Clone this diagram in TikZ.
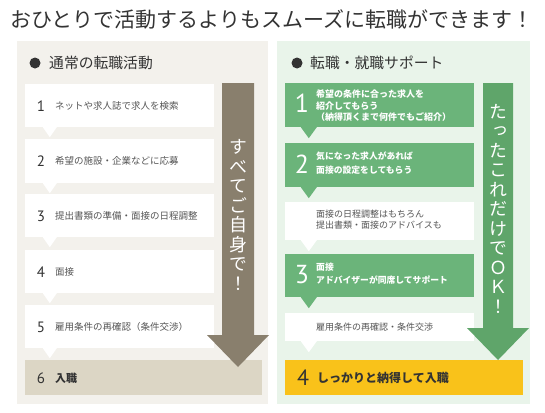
\documentclass[tikz,border=0pt]{standalone}
\usepackage{fontspec}
\setmainfont{Noto Sans CJK JP}
\newfontfamily\vjp{Noto Sans CJK JP}[RawFeature=+vert]
\newfontfamily\numf{PT Sans}
\definecolor{lpanel}{HTML}{F3F1EC}
\definecolor{rpanel}{HTML}{E9F4EA}
\definecolor{larrow}{HTML}{897F6D}
\definecolor{tanbox}{HTML}{DCD6C5}
\definecolor{gbox}{HTML}{6BB47A}
\definecolor{garrow}{HTML}{5FA56A}
\definecolor{ybox}{HTML}{F9C21A}
\definecolor{darktext}{HTML}{333333}
\definecolor{graytext}{HTML}{555555}
\begin{document}
\begin{tikzpicture}[x=1pt,y=-1pt,
  box/.style={draw=none, inner sep=0pt, minimum width=189pt},
  wbox/.style={box, fill=white},
  grbox/.style={box, fill=gbox},
  lnum/.style={font=\numf\fontsize{15}{15}\selectfont, text=darktext, inner sep=0pt},
  ltxt/.style={anchor=west, font=\fontsize{9.5}{11.5}\selectfont, text=graytext, inner sep=0pt, align=left},
  gnum/.style={font=\numf\fontsize{26}{26}\selectfont, text=white, inner sep=0pt},
  gtxt/.style={anchor=west, font=\bfseries\fontsize{9}{11.5}\selectfont, text=white, inner sep=0pt, align=left},
  gline/.style={gtxt, font=\bfseries\fontsize{8.8}{11}\selectfont},
  wtxt/.style={anchor=west, font=\fontsize{9}{11.3}\selectfont, text=graytext, inner sep=0pt, align=left},
  head/.style={anchor=west, font=\fontsize{14.8}{14.8}\selectfont, text=darktext, inner sep=0pt},
  bullet/.style={circle, fill=darktext, minimum size=11pt, inner sep=0pt},
  vtext/.style={font=\vjp\fontsize{18}{19.5}\selectfont, text=white, align=center, inner sep=0pt}
]
\useasboundingbox (0,0) rectangle (545,412);
\fill[white] (0,0) rectangle (545,412);
% panels
\fill[lpanel] (17,41) rectangle (268,404);
\fill[rpanel] (277,41) rectangle (530,404);
% title
\node[anchor=west, inner sep=0pt, text=darktext, font=\fontsize{21}{21}\selectfont] (title) at (10,19) {おひとりで活動するよりもスムーズに転職ができます！};
% headers
\node[bullet] (lb) at (35,63) {};
\node[head] (lh) at (49,63) {通常の転職活動};
\node[bullet] (rb) at (297,63) {};
\node[head] (rh) at (310,63) {転職・就職サポート};

% left boxes
\node[wbox, minimum height=43pt] (l1) at (119.5,105.5) {};
\node[wbox, minimum height=44pt] (l2) at (119.5,161) {};
\node[wbox, minimum height=43pt] (l3) at (119.5,215.5) {};
\node[wbox, minimum height=43pt] (l4) at (119.5,271.5) {};
\node[wbox, minimum height=43pt] (l5) at (119.5,326.5) {};
\node[box, fill=tanbox, minimum width=237pt, minimum height=35pt] (l6) at (143.5,377.5) {};
\foreach \b in {l1,l2,l3,l4,l5}{
  \fill[white] ([xshift=18pt]\b.south west) -- ([xshift=32pt]\b.south west) -- ([xshift=25pt,yshift=-10pt]\b.south west) -- cycle;
}
% left texts
\node[lnum] (l1n) at (41,106) {1};
\node[ltxt] (l1t) at (55,106) {ネットや求人誌で求人を検索};
\node[lnum] (l2n) at (41,161) {2};
\node[ltxt] (l2t) at (55,161) {希望の施設・企業などに応募};
\node[lnum] (l3n) at (41,216) {3};
\node[ltxt] (l3t) at (55,216) {提出書類の準備・面接の日程調整};
\node[lnum] (l4n) at (41,272) {4};
\node[ltxt] (l4t) at (55,272) {面接};
\node[lnum] (l5n) at (41,327) {5};
\node[ltxt] (l5t) at (55,327) {雇用条件の再確認（条件交渉）};
\node[lnum] (l6n) at (41,378) {6};
\node[ltxt, font=\bfseries\fontsize{11}{12}\selectfont, text=darktext] (l6t) at (55,378) {入職};

% left arrow
\fill[larrow] (222,83) -- (254,83) -- (254,335) -- (269,335) -- (238,367) -- (207,335) -- (222,335) -- cycle;
\node[vtext] (lv) at (238,215) {す\\べ\\て\\ご\\自\\身\\で\\！};

% right boxes
\node[grbox, minimum height=44pt] (g1) at (379.5,105) {};
\node[grbox, minimum height=44pt] (g2) at (379.5,165) {};
\node[wbox, minimum height=38pt] (w1) at (379.5,221) {};
\node[grbox, minimum height=43pt] (g3) at (379.5,275.5) {};
\node[wbox, minimum height=28pt] (w2) at (379.5,327) {};
\node[box, fill=ybox, minimum width=238pt, minimum height=35pt] (y4) at (404,377.5) {};
\foreach \b/\c in {g1/gbox,g2/gbox,w1/white,g3/gbox,w2/white}{
  \fill[\c] ([xshift=16pt]\b.south west) -- ([xshift=32pt]\b.south west) -- ([xshift=24pt,yshift=-11pt]\b.south west) -- cycle;
}
% right texts
\node[gnum] (g1n) at (302,103) {1};
\node[gtxt] (g1t) at (316,106) {希望の条件に合った求人を\\紹介してもらう\\（納得頂くまで何件でもご紹介）};
\node[gnum] (g2n) at (302,164) {2};
\node[gline] (g2a) at (316,156.5) {気になった求人があれば};
\node[gline] (g2b) at (316,170.5) {面接の設定をしてもらう};
\node[wtxt] (w1t) at (316,219.5) {面接の日程調整はもちろん\\提出書類・面接のアドバイスも};
\node[gnum] (g3n) at (302,275) {3};
\node[gline] (g3a) at (316,267.5) {面接};
\node[gline] (g3b) at (316,280.5) {アドバイザーが同席してサポート};
\node[wtxt] (w2t) at (316,327) {雇用条件の再確認・条件交渉};
\node[gnum, text=darktext, font=\numf\fontsize{22}{22}\selectfont] (y4n) at (303,378) {4};
\node[gtxt, text=darktext, font=\bfseries\fontsize{12}{12}\selectfont] (y4t) at (317,378) {しっかりと納得して入職};

% right arrow
\fill[garrow] (483,83) -- (513,83) -- (513,328) -- (529,328) -- (498,360) -- (467,328) -- (483,328) -- cycle;
\node[vtext] (rv) at (498,208.5) {た\\っ\\た\\こ\\れ\\だ\\け\\で\\Ｏ\\Ｋ\\！};
\end{tikzpicture}
\end{document}
